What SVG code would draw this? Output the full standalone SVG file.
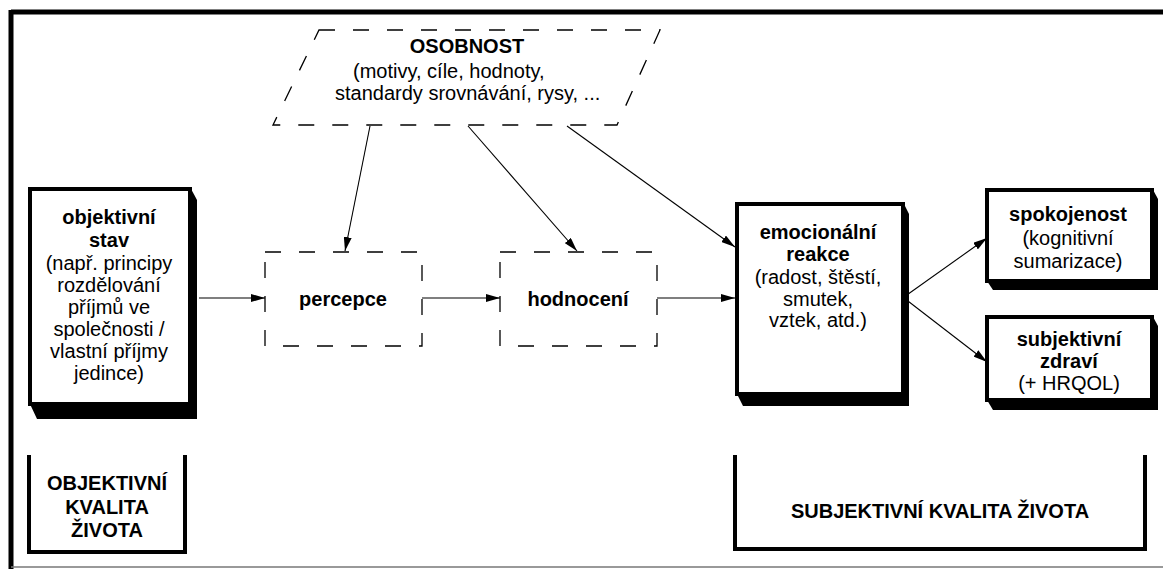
<svg xmlns="http://www.w3.org/2000/svg" width="1163" height="569" viewBox="0 0 1163 569">
<defs>
<style>
.t{font-family:"Liberation Sans",Arial,sans-serif;font-size:20px;fill:#000;text-anchor:middle}
.b{font-weight:bold}
.box{fill:#fff;stroke:#000;stroke-width:4}
.sh{fill:#000}
.dash{fill:none;stroke:#000;stroke-width:1.3;stroke-dasharray:16 18}
.br{fill:none;stroke:#000;stroke-width:4}
.c{fill:none;stroke:#000;stroke-width:1.1;marker-end:url(#ah)}
</style>
<marker id="ah" viewBox="0 0 14 8" refX="14" refY="4" markerWidth="14" markerHeight="8" markerUnits="userSpaceOnUse" orient="auto">
<path d="M0,0 L14,4 L0,8 Z" fill="#000"/>
</marker>
</defs>
<rect width="1163" height="569" fill="#fff"/>
<g id="frame">
<line x1="11" y1="12" x2="1163" y2="12" stroke="#000" stroke-width="5"/>
<line x1="11" y1="10" x2="11" y2="569" stroke="#000" stroke-width="5"/>
<line x1="11" y1="567" x2="1163" y2="567" stroke="#777" stroke-width="1.5"/>
</g>
<g id="osobnost">
<path class="dash" d="M319,30 L660,30 L617,125 L273,125 Z"/>
<text class="t b" x="467" y="53">OSOBNOST</text>
<text class="t" x="353" y="78" style="text-anchor:start">(motivy, cíle, hodnoty,</text>
<text class="t" x="335" y="100" style="text-anchor:start">standardy srovnávání, rysy, ...</text>
</g>
<g id="objektivni-stav">
<polygon class="sh" points="190,187 197,200 197,419 37,419 30,404"/>
<rect class="box" x="30" y="189" width="160" height="215"/>
<text class="t b" x="109" y="224">objektivní</text>
<text class="t b" x="109" y="247">stav</text>
<text class="t" x="109" y="270">(např. principy</text>
<text class="t" x="109" y="292">rozdělování</text>
<text class="t" x="109" y="314">příjmů ve</text>
<text class="t" x="109" y="336">společnosti /</text>
<text class="t" x="109" y="358">vlastní příjmy</text>
<text class="t" x="109" y="380">jedince)</text>
</g>
<g id="percepce">
<rect class="dash" x="265" y="252" width="157" height="94"/>
<text class="t b" x="343" y="306">percepce</text>
</g>
<g id="hodnoceni">
<rect class="dash" x="500" y="252" width="157" height="94"/>
<text class="t b" x="578" y="306">hodnocení</text>
</g>
<g id="emocionalni-reakce">
<polygon class="sh" points="903,202 909,214 909,406 743,406 737,394"/>
<rect class="box" x="737" y="204" width="166" height="190"/>
<text class="t b" x="818" y="239">emocionální</text>
<text class="t b" x="818" y="261">reakce</text>
<text class="t" x="818" y="284">(radost, štěstí,</text>
<text class="t" x="818" y="306">smutek,</text>
<text class="t" x="818" y="327">vztek, atd.)</text>
</g>
<g id="spokojenost">
<polygon class="sh" points="1152,188 1158,199 1158,290 993,290 987,281"/>
<rect class="box" x="987" y="190" width="165" height="91"/>
<text class="t b" x="1068" y="221">spokojenost</text>
<text class="t" x="1068" y="245">(kognitivní</text>
<text class="t" x="1068" y="268">sumarizace)</text>
</g>
<g id="subjektivni-zdravi">
<polygon class="sh" points="1152,315 1158,326 1158,410 993,410 987,400"/>
<rect class="box" x="987" y="317" width="165" height="83"/>
<text class="t b" x="1069" y="346">subjektivní</text>
<text class="t b" x="1069" y="368">zdraví</text>
<text class="t" x="1069" y="390">(+ HRQOL)</text>
</g>
<g id="objektivni-kvalita">
<path class="br" d="M29,455 L29,552 L185,552 L185,455"/>
<text class="t b" x="107" y="490">OBJEKTIVNÍ</text>
<text class="t b" x="107" y="514">KVALITA</text>
<text class="t b" x="107" y="537">ŽIVOTA</text>
</g>
<g id="subjektivni-kvalita">
<path class="br" d="M735,455 L735,549 L1145,549 L1145,455"/>
<text class="t b" x="940" y="518">SUBJEKTIVNÍ KVALITA ŽIVOTA</text>
</g>
<g id="connectors">
<line class="c" x1="199" y1="298" x2="265" y2="298"/>
<line class="c" x1="422" y1="298" x2="500" y2="298"/>
<line class="c" x1="657" y1="298" x2="735" y2="298"/>
<line class="c" x1="370" y1="126" x2="345" y2="251"/>
<line class="c" x1="468" y1="126" x2="577" y2="251"/>
<line class="c" x1="567" y1="126" x2="735" y2="247"/>
<line class="c" x1="904" y1="297" x2="987" y2="238"/>
<line class="c" x1="904" y1="298" x2="987" y2="362"/>
</g>
</svg>
